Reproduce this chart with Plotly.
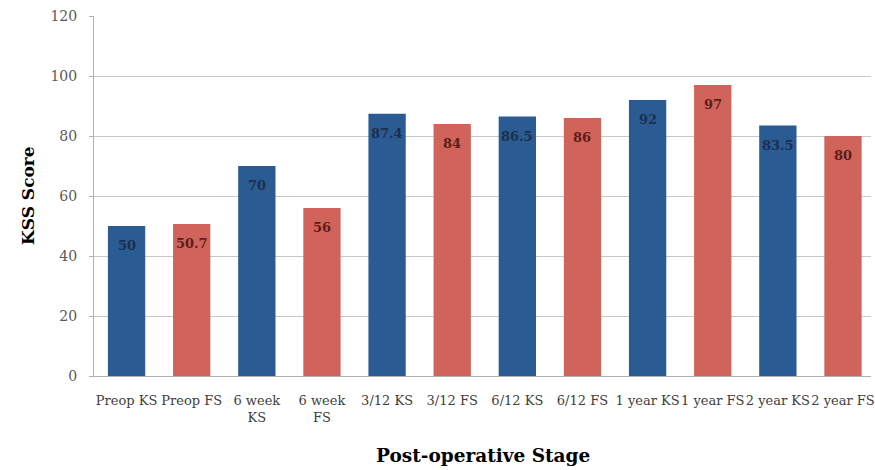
import plotly.graph_objects as go

# KSS scores by post-operative stage (KS = knee score, FS = function score)
stages = ["Preop KS", "Preop FS", "6 week<br>KS", "6 week<br>FS", "3/12 KS", "3/12 FS",
          "6/12 KS", "6/12 FS", "1 year KS", "1 year FS", "2 year KS", "2 year FS"]
scores = [50, 50.7, 70, 56, 87.4, 84, 86.5, 86, 92, 97, 83.5, 80]
score_kind = ["KS", "FS", "KS", "FS", "KS", "FS", "KS", "FS", "KS", "FS", "KS", "FS"]
y_ticks = [0, 20, 40, 60, 80, 100, 120]

BAR_COLORS = {"KS": "#2b5b93", "FS": "#d0645b"}
LABEL_COLORS = {"KS": "#1c2f4d", "FS": "#5e1d1b"}
FONT = "DejaVu Serif"

fig = go.Figure()
fig.add_trace(go.Bar(
    x=stages,
    y=scores,
    marker=dict(color=[BAR_COLORS[k] for k in score_kind], line=dict(width=0)),
    hoverinfo="x+y",
))

# value labels just below the top of each bar
for stage, val, kind in zip(stages, scores, score_kind):
    fig.add_annotation(
        x=stage, y=val, text=f"<b>{val:g}</b>", showarrow=False,
        yanchor="top", yshift=-10,
        font=dict(family=FONT, size=13, color=LABEL_COLORS[kind]),
    )

# axis titles
fig.add_annotation(
    xref="paper", yref="paper", x=0.5, y=0, yanchor="middle", yshift=-79,
    text="<b>Post-operative Stage</b>", showarrow=False,
    font=dict(family=FONT, size=18.5, color="#000000"),
)
fig.add_annotation(
    xref="paper", yref="paper", x=0, y=0.5, xanchor="center", xshift=-66,
    text="<b>KSS Score</b>", textangle=-90, showarrow=False,
    font=dict(family=FONT, size=17, color="#000000"),
)

fig.update_layout(
    width=875, height=470,
    margin=dict(l=94, r=0, t=16, b=94),
    paper_bgcolor="white", plot_bgcolor="white",
    bargap=0.427,
    showlegend=False,
    font=dict(family=FONT),
)
fig.update_xaxes(
    range=[-0.5, 11.43],
    tickangle=0,
    tickfont=dict(family=FONT, size=13, color="#404040"),
    showline=True, linecolor="#b0b0b0", linewidth=1,
    ticks="", showgrid=False,
    ticklabelstandoff=12,
)
fig.update_yaxes(
    range=[0, 120],
    tickvals=y_ticks,
    tickfont=dict(family=FONT, size=14, color="#595959"),
    showline=True, linecolor="#b0b0b0", linewidth=1,
    showgrid=True, gridcolor="#c8c8c8", gridwidth=1,
    ticks="outside", ticklen=4, tickcolor="#b0b0b0",
    ticklabelstandoff=9,
    zeroline=False,
)

fig.write_html("out.html")
